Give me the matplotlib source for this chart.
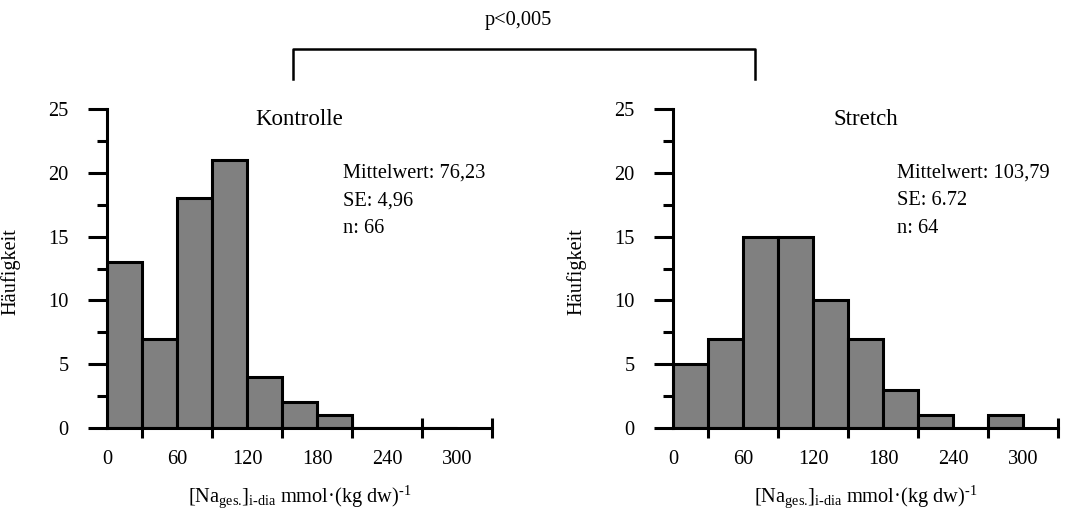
import matplotlib
matplotlib.use('Agg')
from matplotlib import pyplot as plt
from matplotlib.ticker import MultipleLocator
from matplotlib.lines import Line2D

plt.rcParams['font.family'] = ['Liberation Serif', 'DejaVu Serif']
plt.rcParams['mathtext.fontset'] = 'custom'
plt.rcParams['mathtext.rm'] = 'Liberation Serif'
plt.rcParams['mathtext.it'] = 'Liberation Serif:italic'

# histogram data, bins of 30 mmol/(kg dw)
bin_edges = [0, 30, 60, 90, 120, 150, 180, 210, 240, 270, 300]
kontrolle_counts = [13, 7, 18, 21, 4, 2, 1, 0, 0, 0]
stretch_counts = [5, 7, 15, 15, 10, 7, 3, 1, 0, 1]

titles = ['Kontrolle', 'Stretch']
stats = [['Mittelwert: 76,23', 'SE: 4,96', 'n: 66'],
         ['Mittelwert: 103,79', 'SE: 6.72', 'n: 64']]
p_text = 'p<0,005'

fs = 14.7
lw = 2.2

fig = plt.figure(figsize=(10.83, 5.14), dpi=100)
ax_l = fig.add_axes([0.0988, 0.1673, 0.3555, 0.6206])
ax_r = fig.add_axes([0.6214, 0.1673, 0.3555, 0.6206])

for ax, counts, title, st, stat_x in zip([ax_l, ax_r], [kontrolle_counts, stretch_counts],
                                         titles, stats, [202, 192]):
    ax.bar(bin_edges[:-1], counts, width=30, align='edge', color='#808080',
           edgecolor='black', linewidth=lw, zorder=2)
    ax.set_xlim(0, 330)
    ax.set_ylim(0, 25)
    ax.spines['top'].set_visible(False)
    ax.spines['right'].set_visible(False)
    ax.spines['left'].set_linewidth(lw)
    ax.spines['bottom'].set_linewidth(lw)
    ax.spines['bottom'].set_zorder(3)

    ax.xaxis.set_major_locator(MultipleLocator(60))
    ax.xaxis.set_minor_locator(MultipleLocator(60, offset=30))
    ax.yaxis.set_major_locator(MultipleLocator(5))
    ax.yaxis.set_minor_locator(MultipleLocator(2.5))
    ax.tick_params(axis='x', which='major', length=0, pad=16, labelsize=fs)
    ax.tick_params(axis='x', which='minor', direction='inout', length=14.4, width=lw)
    ax.tick_params(axis='y', which='major', direction='out', length=13.7, width=lw,
                   pad=14, labelsize=fs)
    ax.tick_params(axis='y', which='minor', direction='out', length=7, width=lw)
    for t in ax.xaxis.get_minor_ticks():
        t.tick1line.set_zorder(4)

    ax.set_ylabel('Häufigkeit', fontsize=fs)
    ax.yaxis.set_label_coords(-0.226, 0.489)
    ax.text(0.5, -0.215,
            r'$[\mathrm{Na}_{\mathrm{ges.}}\!]_{\text{i-dia}}$ mmol·(kg dw)$^{\text{-1}}$',
            transform=ax.transAxes, ha='center', va='center', fontsize=fs)

    ax.text(165, 24.2, title, ha='center', va='center', fontsize=16.5)
    for i, line in enumerate(st):
        ax.text(stat_x, 20.0 - i * 2.2, line, ha='left', va='center', fontsize=fs)

# significance bracket across both panels
bx = [293 / 1083, 293 / 1083, 755 / 1083, 755 / 1083]
by = [1 - 79 / 514, 1 - 49 / 514, 1 - 49 / 514, 1 - 79 / 514]
fig.add_artist(Line2D(bx, by, transform=fig.transFigure, color='black', linewidth=1.8))
fig.text(518 / 1083, 1 - 21 / 514, p_text, ha='center', va='center', fontsize=fs)

fig.savefig('out.png', dpi=100)
